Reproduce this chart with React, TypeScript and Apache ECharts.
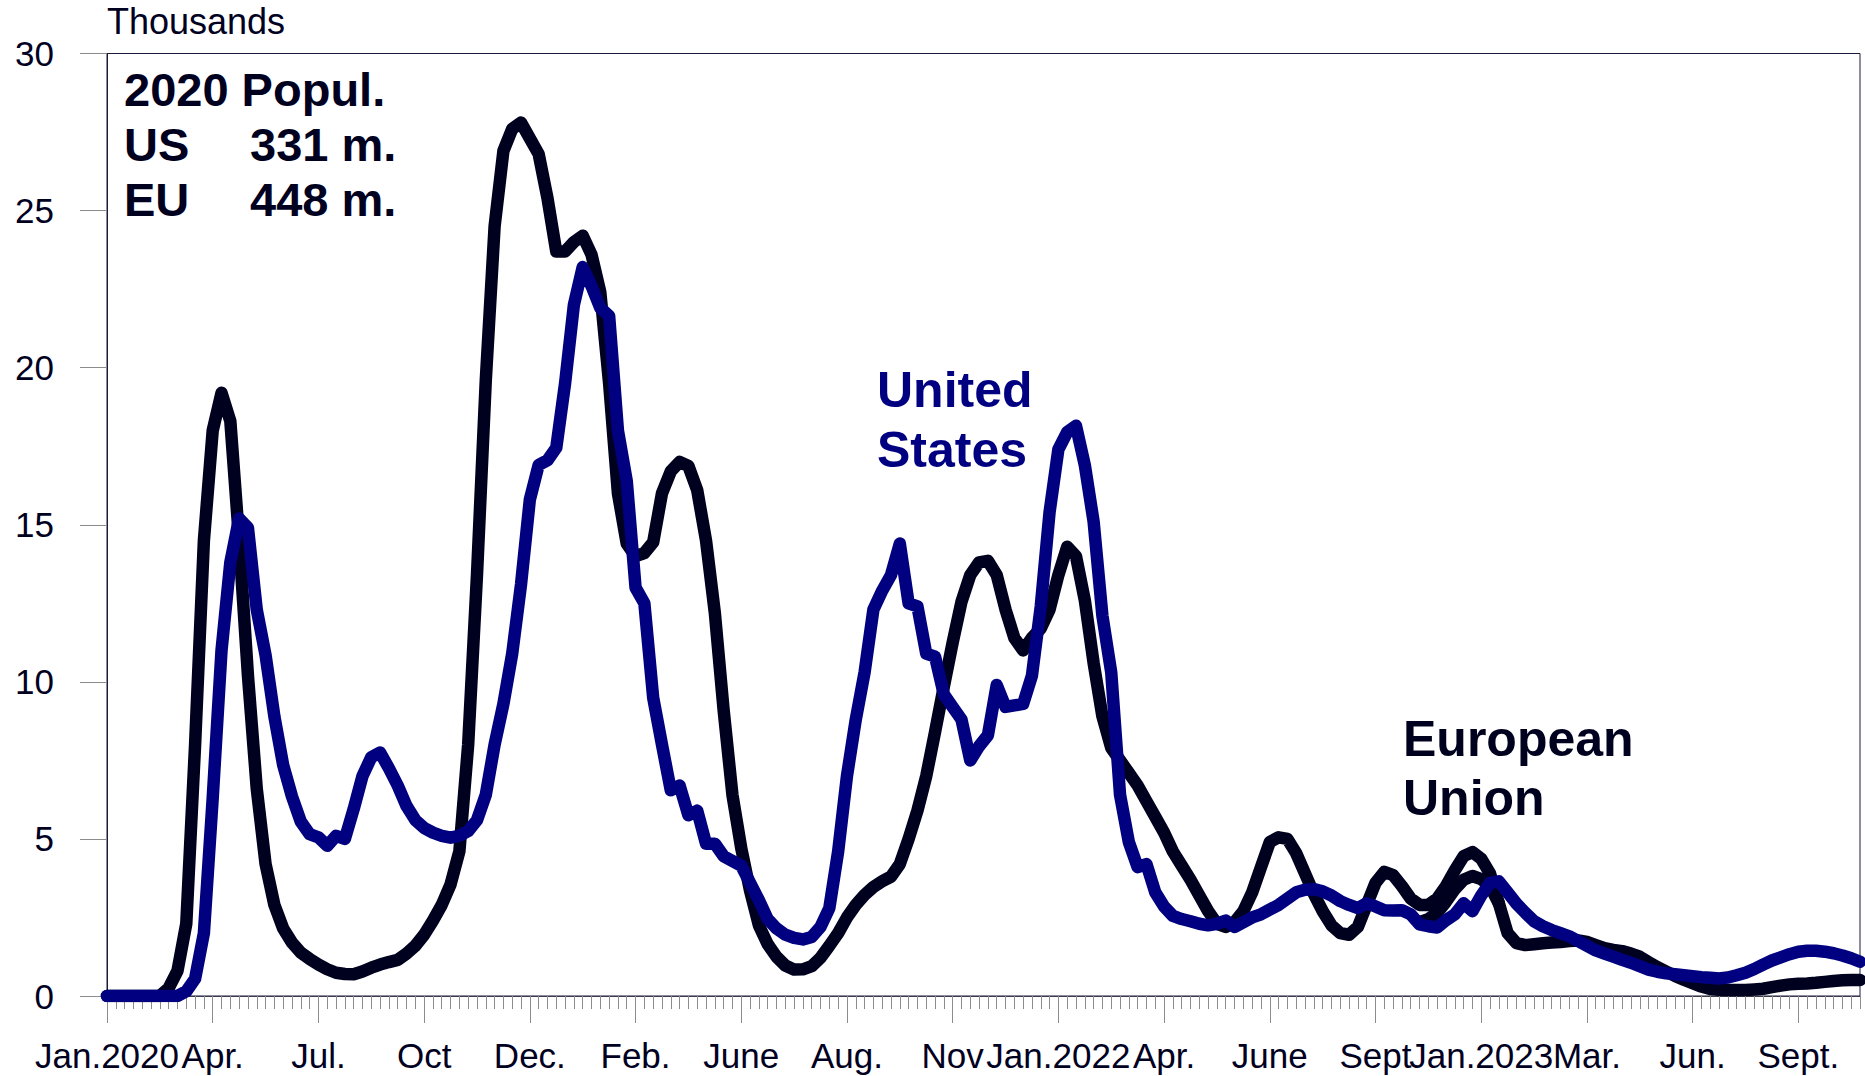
import React, { useEffect, useRef } from "react";
import * as echarts from "echarts";

// Tick labels every 12 weeks
const tickLabels = ["Jan.2020", "Apr.", "Jul.", "Oct", "Dec.", "Feb.", "June", "Aug.", "Nov", "Jan.2022", "Apr.", "June", "Sept", "Jan.2023", "Mar.", "Jun.", "Sept."];

// European Union, weekly deaths (thousands)
const euValues = [
  0, 0, 0, 0, 0, 0, 0, 0.25, 0.8, 2.3,
  8.0, 14.5, 18.0, 19.2, 18.3, 14.5, 10.2, 6.6, 4.2, 2.9,
  2.15, 1.7, 1.38, 1.18, 1.0, 0.85, 0.74, 0.7, 0.69, 0.78,
  0.9, 1.0, 1.08, 1.15, 1.35, 1.6, 1.95, 2.4, 2.9, 3.55,
  4.6, 8.0, 13.4, 19.6, 24.5, 26.9, 27.6, 27.8, 27.3, 26.8,
  25.4, 23.7, 23.7, 24.0, 24.2, 23.6, 22.4, 19.5, 16.0, 14.4,
  14.0, 14.1, 14.44, 16.0, 16.7, 17.0, 16.87, 16.1, 14.5, 12.2,
  9.1, 6.4, 4.7, 3.35, 2.25, 1.65, 1.25, 0.97, 0.84, 0.85,
  0.95, 1.22, 1.6, 2.0, 2.5, 2.9, 3.22, 3.47, 3.65, 3.8,
  4.2, 5.0, 5.9, 7.0, 8.4, 9.85, 11.25, 12.55, 13.4, 13.8,
  13.85, 13.4, 12.3, 11.4, 11.0, 11.4, 11.7, 12.3, 13.4, 14.3,
  14.0, 12.6, 10.6, 8.9, 7.9, 7.5, 7.1, 6.7, 6.2, 5.7,
  5.2, 4.6, 4.15, 3.7, 3.2, 2.7, 2.3, 2.2, 2.35, 2.7,
  3.3, 4.1, 4.9, 5.05, 5.0, 4.54, 3.9, 3.25, 2.7, 2.25,
  2.0, 1.95, 2.2, 2.9, 3.6, 3.95, 3.85, 3.5, 3.1, 2.9,
  2.9, 3.1, 3.5, 4.0, 4.45, 4.58, 4.37, 3.9, 2.95, 2.0,
  1.68, 1.62, 1.65, 1.68, 1.7, 1.72, 1.75, 1.77, 1.72, 1.62,
  1.52, 1.47, 1.43, 1.35, 1.25, 1.08, 0.92, 0.78, 0.64, 0.52,
  0.41, 0.3, 0.22, 0.2, 0.19, 0.19, 0.19, 0.21, 0.23, 0.28,
  0.33, 0.37, 0.39, 0.4, 0.42, 0.45, 0.48, 0.5, 0.51, 0.51,
];

// Second (revised) EU trace around Jan.2023
const euAltStart = 149;
const euAltValues = [2.35, 2.45, 2.65, 3.0, 3.4, 3.7, 3.82, 3.72, 3.5, 2.95];

// United States, weekly deaths (thousands)
const usValues = [
  0, 0, 0, 0, 0, 0, 0, 0, 0, 0.15,
  0.55, 2.0, 6.3, 11.0, 13.8, 15.2, 14.9, 12.3, 10.85, 8.9,
  7.35, 6.35, 5.55, 5.15, 5.05, 4.78, 5.1, 5.0, 5.95, 7.0,
  7.6, 7.75, 7.25, 6.7, 6.05, 5.6, 5.35, 5.2, 5.1, 5.04,
  5.1, 5.25, 5.6, 6.4, 8.0, 9.3, 10.9, 13.1, 15.8, 16.9,
  17.05, 17.45, 19.5, 22.0, 23.2, 22.6, 21.9, 21.65, 18.0, 16.4,
  13.0, 12.5, 9.5, 8.0, 6.55, 6.7, 5.75, 5.9, 4.85, 4.85,
  4.45, 4.3, 4.15, 3.6, 3.05, 2.45, 2.15, 1.95, 1.85, 1.8,
  1.88, 2.2, 2.8, 4.6, 7.0, 8.8, 10.3, 12.3, 12.9, 13.4,
  14.4, 12.5, 12.4, 10.9, 10.8, 9.6, 9.2, 8.8, 7.5, 7.95,
  8.3, 9.9, 9.2, 9.25, 9.3, 10.2, 12.4, 15.4, 17.4, 17.95,
  18.15, 16.9, 15.1, 12.1, 10.3, 6.4, 4.9, 4.1, 4.2, 3.3,
  2.85, 2.55, 2.45, 2.38, 2.3, 2.25, 2.3, 2.4, 2.2, 2.35,
  2.5, 2.6, 2.75, 2.9, 3.1, 3.3, 3.38, 3.4, 3.33, 3.2,
  3.02, 2.9, 2.8, 2.95, 2.85, 2.73, 2.72, 2.73, 2.6, 2.28,
  2.22, 2.18, 2.41, 2.6, 2.95, 2.7, 3.2, 3.6, 3.65, 3.3,
  2.94, 2.65, 2.38, 2.22, 2.1, 2.0, 1.9, 1.75, 1.6, 1.45,
  1.35, 1.25, 1.15, 1.06, 0.95, 0.84, 0.77, 0.72, 0.69, 0.66,
  0.63, 0.6, 0.58, 0.56, 0.59, 0.66, 0.74, 0.86, 1.0, 1.13,
  1.23, 1.33, 1.41, 1.44, 1.44, 1.41, 1.36, 1.29, 1.2, 1.09,
];

const weeksPerTick = 12;
const categories = euValues.map((_, i) => "W" + i);
const euAltSeries = categories.map((_, i) => {
  const k = i - euAltStart;
  return k >= 0 && k < euAltValues.length ? euAltValues[k] : null;
});

const FONT = '"Liberation Sans", Arial, Helvetica, sans-serif';
const DARK = "#00001f";
const NAVY = "#000080";
const GRAY = "#8c8c8c";
const LINE_W = 12.5;

export default function App() {
  const ref = useRef<HTMLDivElement>(null);
  useEffect(() => {
    const chart = echarts.init(ref.current as HTMLDivElement, null, { renderer: "svg" });
    const option: any = {
      animation: false,
      backgroundColor: "#ffffff",
      grid: {
        left: 107,
        top: 53.5,
        right: 5,
        bottom: 80,
        show: true,
        borderColor: "#1a1a3a",
        borderWidth: 1,
        backgroundColor: "transparent",
      },
      xAxis: [
        {
          type: "category",
          data: categories,
          boundaryGap: false,
          axisLine: { show: true, lineStyle: { color: "#3a3a4a", width: 1 } },
          axisTick: { show: true, interval: weeksPerTick - 1, length: 27, lineStyle: { color: GRAY, width: 1 } },
          axisLabel: {
            show: true,
            interval: weeksPerTick - 1,
            margin: 42,
            fontSize: 35,
            fontFamily: FONT,
            color: DARK,
            formatter: (_v: string, idx: number) => tickLabels[idx / weeksPerTick] ?? "",
          },
          splitLine: { show: false },
        },
        {
          type: "category",
          data: categories,
          boundaryGap: false,
          position: "bottom",
          axisLine: { show: false },
          axisTick: { show: true, interval: 0, length: 13, lineStyle: { color: GRAY, width: 1 } },
          axisLabel: { show: false },
          splitLine: { show: false },
        },
      ],
      yAxis: {
        type: "value",
        min: 0,
        max: 30,
        interval: 5,
        axisLine: { show: true, lineStyle: { color: "#1a1a3a", width: 1 } },
        axisTick: { show: true, length: 27, lineStyle: { color: GRAY, width: 1 } },
        axisLabel: { margin: 53, fontSize: 35, fontFamily: FONT, color: DARK },
        splitLine: { show: false },
      },
      series: [
        {
          name: "European Union",
          type: "line",
          data: euValues,
          xAxisIndex: 0,
          showSymbol: false,
          symbol: "none",
          lineStyle: { color: DARK, width: LINE_W, join: "round", cap: "round" },
          z: 3,
        },
        {
          name: "European Union (rev.)",
          type: "line",
          data: euAltSeries,
          xAxisIndex: 0,
          showSymbol: false,
          symbol: "none",
          connectNulls: false,
          lineStyle: { color: DARK, width: LINE_W, join: "round", cap: "round" },
          z: 3,
        },
        {
          name: "United States",
          type: "line",
          data: usValues,
          xAxisIndex: 0,
          showSymbol: false,
          symbol: "none",
          lineStyle: { color: NAVY, width: LINE_W, join: "round", cap: "round" },
          z: 4,
        },
      ],
      graphic: [
        { type: "text", x: 107, y: 21, style: { text: "Thousands", font: `36px ${FONT}`, fill: DARK, align: "left", verticalAlign: "middle" } },
        { type: "text", x: 124, y: 89, style: { text: "2020 Popul.", font: `bold 47px ${FONT}`, fill: DARK, align: "left", verticalAlign: "middle" } },
        { type: "text", x: 124, y: 144, style: { text: "US", font: `bold 47px ${FONT}`, fill: DARK, align: "left", verticalAlign: "middle" } },
        { type: "text", x: 250, y: 144, style: { text: "331 m.", font: `bold 47px ${FONT}`, fill: DARK, align: "left", verticalAlign: "middle" } },
        { type: "text", x: 124, y: 199, style: { text: "EU", font: `bold 47px ${FONT}`, fill: DARK, align: "left", verticalAlign: "middle" } },
        { type: "text", x: 250, y: 199, style: { text: "448 m.", font: `bold 47px ${FONT}`, fill: DARK, align: "left", verticalAlign: "middle" } },
        { type: "text", x: 877, y: 390, style: { text: "United", font: `bold 50px ${FONT}`, fill: NAVY, align: "left", verticalAlign: "middle" } },
        { type: "text", x: 877, y: 450, style: { text: "States", font: `bold 50px ${FONT}`, fill: NAVY, align: "left", verticalAlign: "middle" } },
        { type: "text", x: 1403, y: 739, style: { text: "European", font: `bold 50px ${FONT}`, fill: DARK, align: "left", verticalAlign: "middle" } },
        { type: "text", x: 1403, y: 798, style: { text: "Union", font: `bold 50px ${FONT}`, fill: DARK, align: "left", verticalAlign: "middle" } },
      ],
    };
    chart.setOption(option);
    return () => chart.dispose();
  }, []);
  return (
    <div
      ref={ref}
      style={{ position: "fixed", left: 0, top: 0, width: 1865, height: 1076, background: "#ffffff" }}
    />
  );
}
